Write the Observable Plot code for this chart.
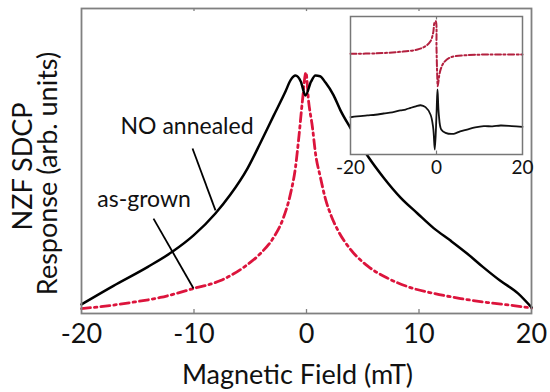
<!DOCTYPE html>
<html>
<head>
<meta charset="utf-8">
<script src="https://cdn.jsdelivr.net/npm/d3@7"></script>
<script src="https://cdn.jsdelivr.net/npm/@observablehq/plot@0.6"></script>
<style>
  html, body { margin: 0; padding: 0; background: #fff; }
  #wrap { position: relative; width: 550px; height: 392px; overflow: hidden; }
  #inset { position: absolute; left: 330px; top: 0px; }
</style>
</head>
<body>
<div id="wrap"><div id="main"></div><div id="inset"></div></div>
<script>
// ---- main chart data (Magnetic field in mT, response in arb. units 0..100)
const fieldTicks = [-20, -10, 0, 10, 20];
const fieldTickLabels = ["-20", "-10", "0", "10", "20"];

const annealedField = [-20, -17.2, -14.1, -11.9, -10.04, -8.1, -6.76, -5.24, -4.09, -2.93, -1.87, -1.4, -0.98, -0.5, -0.09, 0.4, 0.8, 1.2, 1.69, 2.4, 3.02, 3.91, 5.5, 6.84, 8.36, 9.87, 11.3, 12.8, 14.3, 15.7, 17.2, 18.8, 20];
const annealedResp  = [3.0, 9.0, 15.3, 20.3, 25.6, 32.8, 39.0, 47.6, 56.0, 64.8, 72.8, 76.6, 78.0, 76.0, 71.5, 76.0, 78.0, 77.8, 75.7, 71.6, 66.6, 60.8, 51.3, 44.6, 38.0, 32.8, 28.0, 23.9, 19.6, 15.2, 10.8, 6.6, 2.0];

const grownField = [-20, -17.5, -15.6, -13.0, -10.04, -7.64, -5.6, -4.09, -2.93, -2.04, -1.42, -0.98, -0.71, -0.36, -0.05, 0.18, 0.53, 0.8, 1.24, 1.69, 2.2, 2.76, 3.91, 5.42, 7.2, 9.24, 11.3, 13.7, 16.1, 18.4, 20];
const grownResp  = [1.6, 2.6, 3.6, 5.25, 8.2, 10.8, 15.1, 19.7, 24.9, 31.5, 39.3, 47.9, 56.7, 69.8, 79.0, 69.8, 61.0, 52.5, 44.6, 37.5, 32.0, 27.5, 21.0, 15.6, 11.6, 8.5, 6.6, 4.9, 3.6, 2.6, 1.8];

// annotation labels and leader lines (data units)
const labelTexts = ["NO annealed", "as-grown"];
const labelField = [-10.62, -14.44];
const labelResp  = [61.3, 37.3];
const leaderField1 = [-10.13, -13.6];
const leaderResp1  = [54.1, 31.1];
const leaderField2 = [-8.09, -10.04];
const leaderResp2  = [33.8, 8.2];

// ---- inset data (field in mT, response in arb. units 0..100)
const insetTicks = [-20, 0, 20];
const insetTickLabels = ["-20", "0", "20"];

const insetGrownField = [-20, -14, -8.4, -4.4, -2.56, -1.4, -0.77, -0.47, -0.16, 0, 0.16, 0.3, 0.6, 1.0, 1.7, 3.26, 7.1, 14.9, 20];
const insetGrownResp  = [73.0, 73.3, 74.4, 76.1, 78.5, 82.1, 88.2, 95.4, 96.6, 77.3, 58.0, 49.5, 56.5, 62.0, 66.6, 70.4, 72.0, 72.5, 72.5];

const insetAnnealedField = [-20, -18.5, -16.1, -14.2, -12.3, -10.3, -8.4, -7.2, -6.0, -4.8, -3.7, -2.56, -1.4, -0.77, -0.4, 0, 0.23, 0.54, 1.1, 2.1, 4.0, 5.5, 7.1, 9.0, 11, 13, 14.9, 17.5, 20];
const insetAnnealedResp  = [27.0, 27.6, 28.3, 28.8, 29.7, 30.6, 31.9, 32.6, 33.8, 34.9, 35.7, 34.3, 29.0, 19.3, 3.6, 29.0, 47.1, 29.0, 18.1, 15.7, 15.0, 16.8, 18.1, 19.6, 20.5, 20.4, 21.0, 20.6, 20.0];

const zip = (xs, ys) => xs.map((x, i) => ({x, y: ys[i]}));
const annealed = zip(annealedField, annealedResp);
const grown = zip(grownField, grownResp);
const labels = labelTexts.map((t, i) => ({t, x: labelField[i], y: labelResp[i]}));
const leaders = leaderField1.map((x1, i) => ({x1, y1: leaderResp1[i], x2: leaderField2[i], y2: leaderResp2[i]}));
const tickData = fieldTicks.map((v, i) => ({v, s: fieldTickLabels[i]}));
const innerTicks = fieldTicks.slice(1, -1);

const FONT = "Lato, 'Open Sans', sans-serif";
const RED = "#dc143c";

const main = Plot.plot({
  width: 550, height: 392,
  marginLeft: 81, marginRight: 19, marginTop: 8, marginBottom: 79,
  x: {domain: [-20, 20], axis: null},
  y: {domain: [0, 100], axis: null},
  style: {fontFamily: FONT, background: "white", color: "#111", overflow: "visible"},
  marks: [
    Plot.line(grown, {x: "x", y: "y", stroke: RED, strokeWidth: 2.8, strokeDasharray: "9,4,2.5,4", curve: "monotone-x"}),
    Plot.line(annealed, {x: "x", y: "y", stroke: "#000", strokeWidth: 2.5, curve: "monotone-x"}),
    Plot.link(leaders, {x1: "x1", y1: "y1", x2: "x2", y2: "y2", stroke: "#000", strokeWidth: 1.8}),
    Plot.text(labels, {x: "x", y: "y", text: "t", fontSize: 23, fill: "#111", lineAnchor: "middle"}),
    Plot.ruleX(innerTicks, {x: d => d, y1: 0, y2: 1.3, stroke: "#808080", strokeWidth: 1.3}),
    Plot.ruleX(innerTicks, {x: d => d, y1: 100, y2: 99, stroke: "#808080", strokeWidth: 1.3}),
    Plot.frame({stroke: "#808080", strokeWidth: 1.8}),
    Plot.text(tickData, {x: "v", text: "s", frameAnchor: "bottom", dy: 20.5, fontSize: 27, fill: "#111", lineAnchor: "middle"}),
    Plot.text(["Magnetic Field (mT)"], {frameAnchor: "bottom", dx: -9, dy: 61.5, fontSize: 27, fill: "#111", lineAnchor: "middle"}),
    Plot.text(["NZF SDCP"], {frameAnchor: "left", rotate: -90, dx: -58, dy: 5.5, fontSize: 27, fill: "#111", lineAnchor: "middle", textAnchor: "middle"}),
    Plot.text(["Response (arb. units)"], {frameAnchor: "left", rotate: -90, dx: -33.5, dy: 12.5, fontSize: 27, fill: "#111", lineAnchor: "middle", textAnchor: "middle"})
  ]
});
document.getElementById("main").appendChild(main);

const insetGrown = zip(insetGrownField, insetGrownResp);
const insetAnnealed = zip(insetAnnealedField, insetAnnealedResp);
const insetTickData = insetTicks.map((v, i) => ({v, s: insetTickLabels[i]}));

const inset = Plot.plot({
  width: 200, height: 180,
  marginLeft: 20, marginRight: 8, marginTop: 16, marginBottom: 26,
  x: {domain: [-20, 20], axis: null},
  y: {domain: [0, 100], axis: null},
  style: {fontFamily: FONT, background: "transparent", color: "#111", overflow: "visible"},
  marks: [
    Plot.frame({fill: "white", stroke: "none"}),
    Plot.line(insetGrown, {x: "x", y: "y", stroke: "#b3203f", strokeWidth: 2, strokeDasharray: "6,2.5,2,2.5", curve: "catmull-rom"}),
    Plot.line(insetAnnealed, {x: "x", y: "y", stroke: "#111", strokeWidth: 1.8, curve: "catmull-rom"}),
    Plot.ruleX([0], {x: d => d, y1: 0, y2: 2.5, stroke: "#777", strokeWidth: 1.2}),
    Plot.ruleX([0], {x: d => d, y1: 100, y2: 97.5, stroke: "#777", strokeWidth: 1.2}),
    Plot.frame({stroke: "#777", strokeWidth: 1.5}),
    Plot.text(insetTickData, {x: "v", text: "s", frameAnchor: "bottom", dy: 13, fontSize: 19, fill: "#111", lineAnchor: "middle"})
  ]
});
document.getElementById("inset").appendChild(inset);
</script>
</body>
</html>
